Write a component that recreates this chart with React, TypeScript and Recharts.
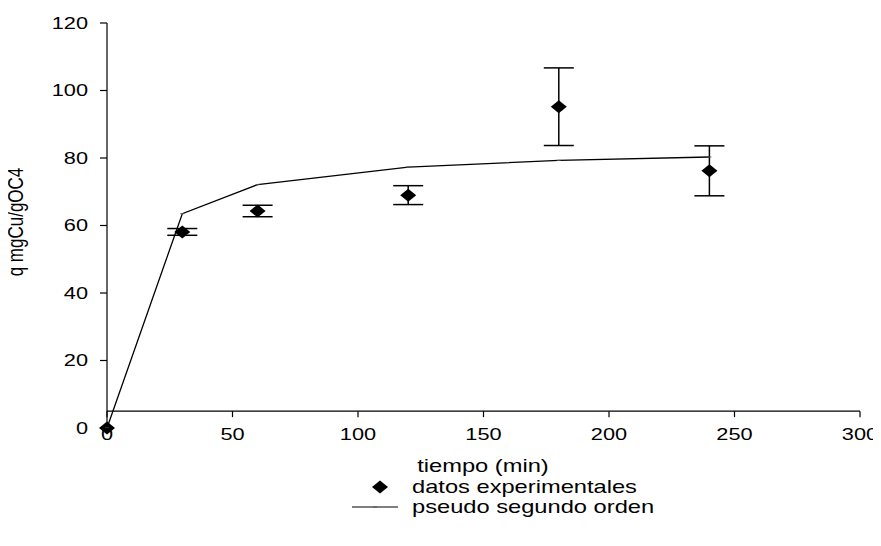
import React from 'react';
import {
  ComposedChart,
  Line,
  Scatter,
  XAxis,
  YAxis,
  ErrorBar,
  ReferenceLine,
  Customized,
} from 'recharts';

// ---- data ----
const timeMin = [0, 30, 60, 120, 180, 240];
const qExperimental = [0, 58.1, 64.3, 69.0, 95.2, 76.2];
const qError = [0, 1.0, 1.7, 2.8, 11.5, 7.4];
const qPseudoSecondOrder = [0, 63.5, 72.1, 77.3, 79.3, 80.3];
const xTicks = [0, 50, 100, 150, 200, 250, 300];
const yTicks = [0, 20, 40, 60, 80, 100, 120];
const xAxisCrossesAt = 5;
const xAxisTitle = 'tiempo (min)';
const yAxisTitle = 'q mgCu/gOC4';
const legendExperimental = 'datos experimentales';
const legendModel = 'pseudo segundo orden';

const rows = timeMin.map((t, i) => ({
  t,
  q: qExperimental[i],
  err: qError[i],
  fit: qPseudoSecondOrder[i],
}));

// ---- style ----
const W = 881;
const H = 546;
const MARGIN = { top: 23, right: 21, bottom: 88, left: 0 };
const Y_AXIS_W = 107;
const X_AXIS_H = 30;
const PLOT_H = H - MARGIN.top - MARGIN.bottom - X_AXIS_H;
const Y_MAX = 120;
const FONT = 'Liberation Sans, Arial, sans-serif';
const FS = 17;
const FS_TITLE = 18.5;
const SX = 1.28;

const crossOffset = (xAxisCrossesAt / Y_MAX) * PLOT_H;

const XTick = (props: any) => {
  const { x, y, payload } = props;
  const axisY = y - crossOffset;
  return (
    <g>
      <line x1={x} x2={x} y1={axisY} y2={axisY + 6} stroke="#000" strokeWidth={1.2} />
      <text
        transform={`translate(${x},${y + 12}) scale(${SX},1)`}
        textAnchor="middle"
        fontFamily={FONT}
        fontSize={FS}
        fill="#000"
      >
        {payload.value}
      </text>
    </g>
  );
};

const YTick = (props: any) => {
  const { x, y, payload } = props;
  return (
    <text
      transform={`translate(${x},${y}) scale(${SX},1)`}
      textAnchor="end"
      dy="0.35em"
      fontFamily={FONT}
      fontSize={FS}
      fill="#000"
    >
      {payload.value}
    </text>
  );
};

const Diamond = (props: any) => {
  const { cx, cy } = props;
  if (cx == null || cy == null) return null;
  const hw = 8;
  const hh = 6.5;
  return (
    <polygon
      points={`${cx - hw},${cy} ${cx},${cy - hh} ${cx + hw},${cy} ${cx},${cy + hh}`}
      fill="#000"
    />
  );
};

const TinyDash = (props: any) => {
  const { cx, cy, index } = props;
  if (cx == null || cy == null) return <g key={index} />;
  return <line key={index} x1={cx - 2} x2={cx + 2} y1={cy} y2={cy} stroke="#555" strokeWidth={1} />;
};

const Titles = () => (
  <g fontFamily={FONT} fontSize={FS_TITLE} fill="#000">
    <text transform={`translate(483,472) scale(${SX},1)`} textAnchor="middle">
      {xAxisTitle}
    </text>
    <text transform={`translate(23,222) scale(${SX},1) rotate(-90)`} textAnchor="middle" fontSize={FS}>
      {yAxisTitle}
    </text>
    <polygon points="372,487 380,480.5 388,487 380,493.5" fill="#000" />
    <text transform={`translate(412,493) scale(${SX},1)`}>{legendExperimental}</text>
    <line x1={352} x2={398} y1={507} y2={507} stroke="#000" strokeWidth={1.2} />
    <line x1={373} x2={377} y1={507} y2={507} stroke="#555" strokeWidth={1} />
    <text transform={`translate(412,513) scale(${SX},1)`}>{legendModel}</text>
  </g>
);

export default function App() {
  return (
    <div style={{ width: W, height: H, margin: -8, background: '#fff' }}>
      <ComposedChart width={W} height={H} data={rows} margin={MARGIN}>
        <XAxis
          dataKey="t"
          type="number"
          domain={[0, 300]}
          ticks={xTicks}
          axisLine={false}
          tickLine={false}
          tickSize={0}
          tickMargin={0}
          height={X_AXIS_H}
          tick={<XTick />}
          interval={0}
        />
        <YAxis
          type="number"
          domain={[0, Y_MAX]}
          ticks={yTicks}
          width={Y_AXIS_W}
          axisLine={{ stroke: '#000', strokeWidth: 1.2 }}
          tickLine={{ stroke: '#000', strokeWidth: 1.2 }}
          tickSize={7}
          tickMargin={12}
          tick={<YTick />}
          interval={0}
        />
        <ReferenceLine y={xAxisCrossesAt} stroke="#000" strokeWidth={1.2} />
        <Line
          dataKey="fit"
          stroke="#000"
          strokeWidth={1.3}
          dot={<TinyDash />}
          activeDot={false}
          isAnimationActive={false}
        />
        <Scatter dataKey="q" shape={<Diamond />} isAnimationActive={false}>
          <ErrorBar dataKey="err" direction="y" width={15} stroke="#000" strokeWidth={1.5} />
        </Scatter>
        <Customized component={Titles} />
      </ComposedChart>
    </div>
  );
}
